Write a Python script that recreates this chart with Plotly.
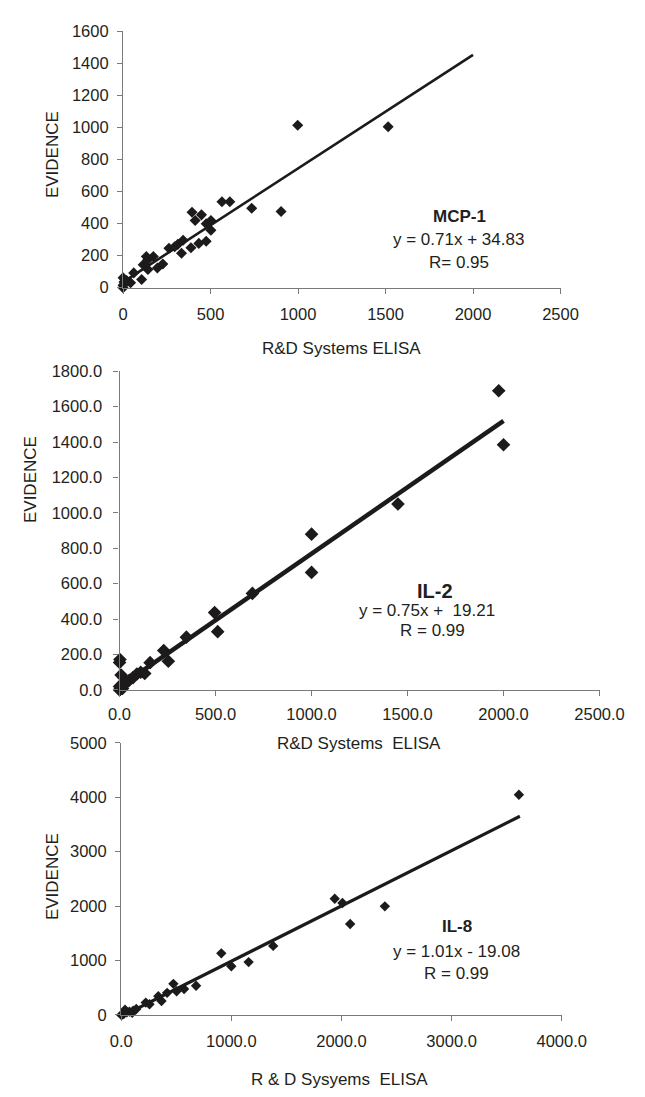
import plotly.graph_objects as go

W, H = 645, 1097

# ---------------- data ----------------
mcp1_x = [0, 0, 5, 0, 20, 43, 61, 106, 115, 133, 142, 142, 173, 196, 227, 262, 295, 313, 343, 334,
          388, 433, 475, 502, 502, 475, 448, 412, 394, 565, 610, 735, 903, 998, 1515]
mcp1_y = [0, 15, 35, 61, 45, 31, 92, 51, 143, 194, 113, 174, 194, 123, 147, 246, 255, 270, 296, 215,
          249, 276, 290, 358, 419, 399, 454, 419, 470, 536, 536, 495, 475, 1013, 1003]
mcp1_fit_x = [0, 2000]
mcp1_fit_y = [35, 1452]

il2_x = [0, 3, 8, 0, 15, 20, 8, 0, 2, 35, 50, 70, 90, 110, 131, 159, 230, 254, 348, 495, 511, 692,
         1000, 1000, 1450, 1975, 2000]
il2_y = [0, 5, 12, 20, 8, 30, 84, 155, 172, 40, 55, 70, 90, 100, 93, 154, 223, 162, 298, 437, 329, 545,
         880, 664, 1050, 1690, 1385]
il2_fit_x = [0, 2000]
il2_fit_y = [19, 1520]

il8_x = [0, 9, 23, 35, 51, 75, 109, 137, 100, 223, 257, 337, 366, 417, 474, 503, 571, 680, 909, 1000,
         1157, 1380, 1939, 2009, 2079, 2394, 3611]
il8_y = [0, 5, 18, 95, 48, 60, 77, 110, 40, 226, 196, 345, 256, 405, 571, 435, 476, 536, 1131, 893,
         970, 1268, 2133, 2055, 1671, 1995, 4044]
il8_fit_x = [30, 3620]
il8_fit_y = [0, 3650]

x1_ticks = [0, 500, 1000, 1500, 2000, 2500]
y1_ticks = [0, 200, 400, 600, 800, 1000, 1200, 1400, 1600]
x2_ticks = [0, 500, 1000, 1500, 2000, 2500]
y2_ticks = [0, 200, 400, 600, 800, 1000, 1200, 1400, 1600, 1800]
x3_ticks = [0, 1000, 2000, 3000, 4000]
y3_ticks = [0, 1000, 2000, 3000, 4000, 5000]

# ---------------- style ----------------
FONT = "Liberation Sans, Arial, sans-serif"
TXT = "#231f20"
MK = "#1c1a1b"
AX = "#7a7a7a"
FS = 16.5


def px(x):
    return x / W


def py(y):
    return 1 - y / H


fig = go.Figure()

fig.add_trace(go.Scatter(x=mcp1_fit_x, y=mcp1_fit_y, mode="lines", line=dict(color=MK, width=2.6),
                         xaxis="x", yaxis="y", showlegend=False, cliponaxis=False))
fig.add_trace(go.Scatter(x=mcp1_x, y=mcp1_y, mode="markers",
                         marker=dict(symbol="diamond", size=8.5, color=MK),
                         xaxis="x", yaxis="y", showlegend=False, cliponaxis=False))

fig.add_trace(go.Scatter(x=il2_fit_x, y=il2_fit_y, mode="lines", line=dict(color=MK, width=4.5),
                         xaxis="x2", yaxis="y2", showlegend=False, cliponaxis=False))
fig.add_trace(go.Scatter(x=il2_x, y=il2_y, mode="markers",
                         marker=dict(symbol="diamond", size=10.5, color=MK),
                         xaxis="x2", yaxis="y2", showlegend=False, cliponaxis=False))

fig.add_trace(go.Scatter(x=il8_fit_x, y=il8_fit_y, mode="lines", line=dict(color=MK, width=3.2),
                         xaxis="x3", yaxis="y3", showlegend=False, cliponaxis=False))
fig.add_trace(go.Scatter(x=il8_x, y=il8_y, mode="markers",
                         marker=dict(symbol="diamond", size=8, color=MK),
                         xaxis="x3", yaxis="y3", showlegend=False, cliponaxis=False))

axis_common = dict(showgrid=False, zeroline=False, showline=True, linecolor=AX, linewidth=1.3,
                   ticks="outside", ticklen=5, tickwidth=1.3, tickcolor=AX,
                   tickfont=dict(family=FONT, size=FS, color=TXT), mirror=False, fixedrange=True)

fig.update_layout(
    width=W, height=H, margin=dict(l=0, r=0, t=0, b=0),
    paper_bgcolor="white", plot_bgcolor="white", showlegend=False,
    xaxis=dict(domain=[px(118.7), px(582)], range=[0, 2500], tickvals=x1_ticks,
               anchor="y", ticklabelstandoff=6, **axis_common),
    yaxis=dict(domain=[py(283.3), py(22.5)], range=[0, 1600], tickvals=y1_ticks,
               anchor="x", ticklabelstandoff=5, **axis_common),
    xaxis2=dict(domain=[px(115), px(623.3)], range=[0, 2500], tickvals=x2_ticks, tickformat=".1f",
                anchor="y2", ticklabelstandoff=4, **axis_common),
    yaxis2=dict(domain=[py(692.3), py(368.3)], range=[0, 1800], tickvals=y2_ticks, tickformat=".1f",
                anchor="x2", ticklabelstandoff=8, **axis_common),
    xaxis3=dict(domain=[px(116.7), px(583.3)], range=[0, 4000], tickvals=x3_ticks, tickformat=".1f",
                anchor="y3", ticklabelstandoff=6, **axis_common),
    yaxis3=dict(domain=[py(1022.7), py(746)], range=[0, 5000], tickvals=y3_ticks,
                anchor="x3", ticklabelstandoff=5, **axis_common),
)

NB = "\u00a0"
texts = [
    # (text, x_px, y_px, size, angle)
    ("EVIDENCE", 44, 148, 17, -90),
    ("R&D Systems ELISA", 350, 345, 17, 0),
    ("<b>MCP-1</b>", 475, 211, 17, 0),
    ("y = 0.71x + 34.83", 474, 234, 17, 0),
    ("R= 0.95", 475, 258, 17, 0),

    ("EVIDENCE", 20, 478, 17, -90),
    ("R&D Systems" + NB + NB + "ELISA", 369, 747, 17, 0),
    ("<b>IL-2</b>", 449, 592, 20, 0),
    ("y = 0.75x +" + NB + NB + "19.21", 441, 612, 17, 0),
    ("R = 0.99", 446, 632, 17, 0),

    ("EVIDENCE", 44, 882, 17, -90),
    ("R & D Sysyems" + NB + NB + "ELISA", 348, 1088, 17, 0),
    ("<b>IL-8</b>", 472, 933, 17, 0),
    ("y = 1.01x - 19.08", 472, 958, 17, 0),
    ("R = 0.99", 472, 981, 17, 0),
]
for t, x, y, s, a in texts:
    fig.add_annotation(text=t, x=px(x), y=py(y), xref="paper", yref="paper",
                       xanchor="center", yanchor="middle", showarrow=False, textangle=a,
                       font=dict(family=FONT, size=s, color=TXT))

fig.write_html("out.html")
